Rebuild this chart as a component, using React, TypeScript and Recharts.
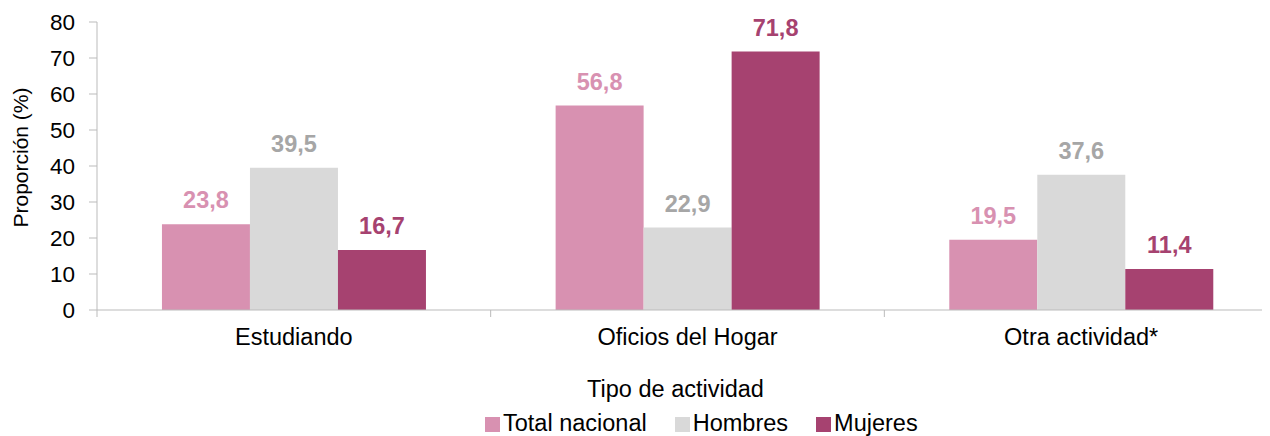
import React from "react";
import { BarChart, Bar, XAxis, YAxis, Legend, LabelList } from "recharts";

const categories = ["Estudiando", "Oficios del Hogar", "Otra actividad*"];
const totalNacional = [23.8, 56.8, 19.5];
const hombres = [39.5, 22.9, 37.6];
const mujeres = [16.7, 71.8, 11.4];
const yTicks = [0, 10, 20, 30, 40, 50, 60, 70, 80];

const seriesNames = { total: "Total nacional", hombres: "Hombres", mujeres: "Mujeres" };
const legendOrder = [seriesNames.total, seriesNames.hombres, seriesNames.mujeres];

const data = categories.map((c, i) => ({
  name: c,
  total: totalNacional[i],
  hombres: hombres[i],
  mujeres: mujeres[i],
}));

const FONT = "'Liberation Sans', Arial, Helvetica, sans-serif";
const AXIS = "#BBBBBB";
const C_TOTAL = "#D891B1";
const C_HOM = "#D9D9D9";
const C_MUJ = "#A64270";

const fmt = (v: any) => String(v).replace(".", ",");

const CatTick = (props: any) => {
  const { x, y, payload, index } = props;
  const off = payload && payload.offset ? payload.offset : 0;
  const axisY = y - 18;
  return (
    <g>
      <line x1={x - off} x2={x - off} y1={axisY} y2={axisY + 7} stroke={AXIS} strokeWidth={1} />
      {index === categories.length - 1 && (
        <line x1={x + off} x2={x + off} y1={axisY} y2={axisY + 7} stroke={AXIS} strokeWidth={1} />
      )}
      <text x={x} y={y} dy="0.71em" textAnchor="middle" fill="#000" fontSize={23.5} fontFamily={FONT}>
        {payload.value}
      </text>
    </g>
  );
};

const LegendContent = (props: any) => {
  const items = [...(props.payload || [])].sort(
    (a: any, b: any) => legendOrder.indexOf(a.value) - legendOrder.indexOf(b.value)
  );
  return (
    <div
      style={{
        display: "flex",
        alignItems: "flex-end",
        height: 26,
        boxSizing: "border-box",
        paddingLeft: 477,
        paddingTop: 2,
        fontFamily: FONT,
        fontSize: 23.5,
        lineHeight: "26px",
        color: "#000",
        whiteSpace: "nowrap",
      }}
    >
      {items.map((p: any, i: number) => (
        <div key={i} style={{ display: "flex", alignItems: "center", marginRight: 28 }}>
          <span
            style={{
              display: "inline-block",
              width: 15,
              height: 15,
              background: p.color,
              marginRight: 3,
              marginTop: 3,
            }}
          />
          <span>{p.value}</span>
        </div>
      ))}
    </div>
  );
};

export default function App() {
  return (
    <div style={{ width: 1262, height: 428, overflow: "hidden" }}>
      <BarChart
        width={1270}
        height={428}
        data={data}
        margin={{ top: 14, right: 0, bottom: 0, left: 0 }}
        barCategoryGap="16.5%"
        barGap={0}
      >
        <XAxis
          dataKey="name"
          height={100}
          stroke={AXIS}
          tickLine={false}
          tickSize={6}
          tickMargin={12}
          tick={<CatTick />}
          interval={0}
          label={(lp: any) => {
            const vb = lp.viewBox || {};
            return (
              <text
                x={vb.x + vb.width / 2 - 12}
                y={vb.y + vb.height - 13}
                textAnchor="middle"
                fill="#000"
                fontSize={23.5}
                fontFamily={FONT}
              >
                Tipo de actividad
              </text>
            );
          }}
        />
        <YAxis
          width={89}
          domain={[0, 80]}
          ticks={yTicks}
          interval={0}
          stroke={AXIS}
          tickSize={8}
          tickMargin={14}
          tick={{ fill: "#000", fontSize: 22.5, fontFamily: FONT }}
          label={() => {
            const cy = 149.5;
            return (
              <text
                x={20}
                y={cy}
                transform={`rotate(-90, 20, ${cy})`}
                textAnchor="middle"
                fill="#000"
                fontSize={21}
                fontFamily={FONT}
              >
                Proporción (%)
              </text>
            );
          }}
        />
        <Legend
          verticalAlign="bottom"
          height={26}
          itemSorter={null as any}
          content={<LegendContent />}
          wrapperStyle={{ left: 0, bottom: 0, width: 1270, height: 26 }}
        />
        <Bar dataKey="total" name={seriesNames.total} fill={C_TOTAL} isAnimationActive={false}>
          <LabelList
            dataKey="total"
            position="top"
            offset={16}
            formatter={fmt}
            style={{ fill: C_TOTAL, fontSize: 23.5, fontWeight: "bold", fontFamily: FONT }}
          />
        </Bar>
        <Bar dataKey="hombres" name={seriesNames.hombres} fill={C_HOM} isAnimationActive={false}>
          <LabelList
            dataKey="hombres"
            position="top"
            offset={16}
            formatter={fmt}
            style={{ fill: "#A6A6A6", fontSize: 23.5, fontWeight: "bold", fontFamily: FONT }}
          />
        </Bar>
        <Bar dataKey="mujeres" name={seriesNames.mujeres} fill={C_MUJ} isAnimationActive={false}>
          <LabelList
            dataKey="mujeres"
            position="top"
            offset={16}
            formatter={fmt}
            style={{ fill: C_MUJ, fontSize: 23.5, fontWeight: "bold", fontFamily: FONT }}
          />
        </Bar>
      </BarChart>
    </div>
  );
}
